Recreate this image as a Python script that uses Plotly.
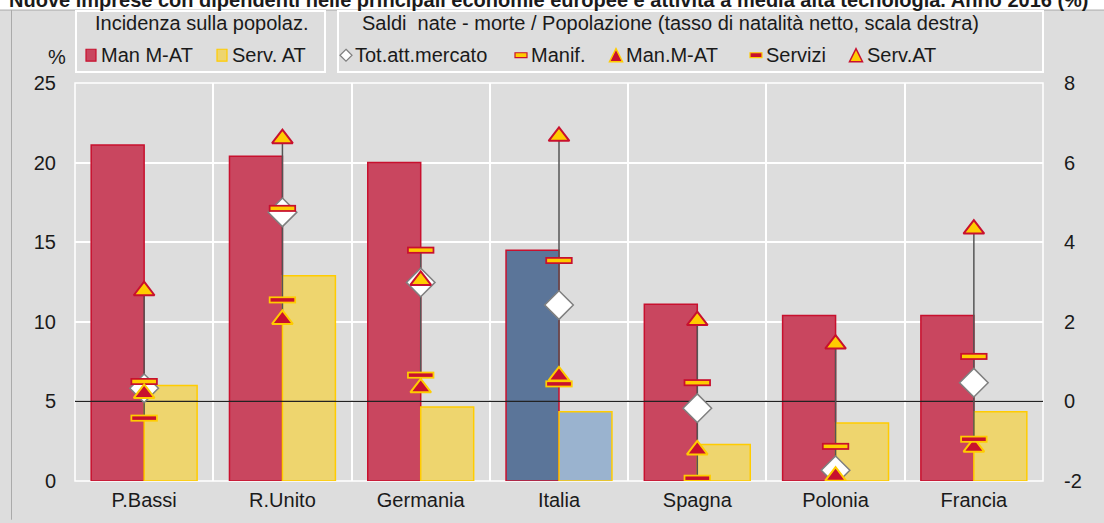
import plotly.graph_objects as go

# ---- data -------------------------------------------------------------
categories = ["P.Bassi", "R.Unito", "Germania", "Italia", "Spagna", "Polonia", "Francia"]

# incidence on population (%) - left scale
man_mat_share = [21.1, 20.4, 20.0, 14.5, 11.1, 10.4, 10.4]
serv_at_share = [6.0, 12.9, 4.65, 4.35, 2.3, 3.65, 4.35]

# net birth rate (births - deaths / population) - right scale
tot_net = [0.33, 4.75, 2.99, 2.42, -0.17, -1.73, 0.47]
manif_net = [0.50, 4.85, 3.80, 3.54, 0.47, -1.13, 1.13]
man_mat_net = [0.20, 2.06, 0.34, 0.64, -1.22, -1.88, -1.15]
servizi_net = [-0.42, 2.55, 0.66, 0.44, -1.93, -2.10, -0.95]
serv_at_net = [2.78, 6.60, 3.04, 6.66, 2.03, 1.44, 4.33]

left_ticks = [0, 5, 10, 15, 20, 25]
right_ticks = [-2, 0, 2, 4, 6, 8]

# ---- styling ----------------------------------------------------------
FONT = "Liberation Sans, Arial, sans-serif"
BG = "#DDDDDD"
RED = "#C8102E"
YEL = "#FFCC00"
RED_BAR = "#C9465F"
YEL_BAR = "#EED56E"
BLUE_BAR = "#5B7599"
LBLUE_BAR = "#9AB3CF"
HIGHLIGHT = "Italia"

W, H = 1104, 523
PL, PR, PT, PB = 75, 1043, 83, 484


def px(x):
    return (x - PL) / (PR - PL)


def py(y):
    return (PB - y) / (PB - PT)


xs = list(range(len(categories)))
red_fill = [BLUE_BAR if c == HIGHLIGHT else RED_BAR for c in categories]
yel_fill = [LBLUE_BAR if c == HIGHLIGHT else YEL_BAR for c in categories]

fig = go.Figure()

fig.add_trace(go.Bar(
    x=xs, y=man_mat_share, name="Man M-AT",
    marker=dict(color=red_fill, line=dict(color=RED, width=1.5)),
))
fig.add_trace(go.Bar(
    x=xs, y=serv_at_share, name="Serv. AT",
    marker=dict(color=yel_fill, line=dict(color=YEL, width=1.5)),
))

# zero line of the right scale
fig.add_trace(go.Scatter(
    x=[-0.5, len(categories) - 0.5], y=[0, 0], yaxis="y2", mode="lines",
    line=dict(color="#222222", width=1.2), hoverinfo="skip",
))

# high-low lines joining the net-rate markers of each country
series_net = [tot_net, manif_net, man_mat_net, servizi_net, serv_at_net]
hl_x, hl_y = [], []
for i in xs:
    vals = [s[i] for s in series_net]
    hl_x += [i, i, None]
    hl_y += [min(vals), max(vals), None]
fig.add_trace(go.Scatter(
    x=hl_x, y=hl_y, yaxis="y2", mode="lines",
    line=dict(color="#555555", width=1.5), hoverinfo="skip",
))


def dash(y, outer, inner, name):
    # a short bar drawn as a thick outlined stroke with a thinner core on top
    fig.add_trace(go.Scatter(
        x=xs, y=y, yaxis="y2", mode="markers", name=name,
        marker=dict(symbol="line-ew", size=19.5, line=dict(color=outer, width=7)),
    ))
    fig.add_trace(go.Scatter(
        x=xs, y=y, yaxis="y2", mode="markers", name=name, hoverinfo="skip",
        marker=dict(symbol="line-ew", size=17, line=dict(color=inner, width=3.5)),
    ))


fig.add_trace(go.Scatter(
    x=xs, y=tot_net, yaxis="y2", mode="markers", name="Tot.att.mercato",
    marker=dict(symbol="diamond", size=22, color="white", line=dict(color="#7F7F7F", width=1.5)),
))
dash(manif_net, RED, YEL, "Manif.")
fig.add_trace(go.Scatter(
    x=xs, y=man_mat_net, yaxis="y2", mode="markers", name="Man.M-AT",
    marker=dict(symbol="triangle-up", size=18, color=RED, line=dict(color=YEL, width=2)),
))
dash(servizi_net, YEL, RED, "Servizi")
fig.add_trace(go.Scatter(
    x=xs, y=serv_at_net, yaxis="y2", mode="markers", name="Serv.AT",
    marker=dict(symbol="triangle-up", size=18, color=YEL, line=dict(color=RED, width=2)),
))

# ---- legend, heading and frame ----------------------------------------
annotations = []
shapes = []


def label(text, x, y, size=20, anchor="left", yanchor="middle", bold=False):
    annotations.append(dict(
        text=f"<b>{text}</b>" if bold else text, x=px(x), y=py(y), xref="paper", yref="paper",
        xanchor=anchor, yanchor=yanchor, showarrow=False,
        font=dict(family=FONT, size=size, color="#1A1A1A"),
    ))


def rect(x0, y0, x1, y1, fill=None, color=None, width=0, layer="above"):
    shapes.append(dict(
        type="rect", xref="paper", yref="paper", x0=px(x0), x1=px(x1), y0=py(y1), y1=py(y0),
        fillcolor=fill if fill else "rgba(0,0,0,0)",
        line=dict(color=color if color else "rgba(0,0,0,0)", width=width), layer=layer,
    ))


def poly(points, fill, color, width):
    path = "M " + " L ".join(f"{px(x):.5f},{py(y):.5f}" for x, y in points) + " Z"
    shapes.append(dict(
        type="path", xref="paper", yref="paper", path=path,
        fillcolor=fill, line=dict(color=color, width=width),
    ))


def line(x0, y0, x1, y1, color, width):
    shapes.append(dict(
        type="line", xref="paper", yref="paper", x0=px(x0), x1=px(x1), y0=py(y0), y1=py(y1),
        line=dict(color=color, width=width),
    ))


LEG_Y = 55

# heading strip
rect(0, -5, W, 9.5, fill="white", layer="below")
line(0, 9.5, W, 9.5, "#AAAAAA", 1)
line(11.5, 9.5, 11.5, H, "#AAAAAA", 1)
label("Nuove imprese con dipendenti nelle principali economie europee e attività a media alta tecnologia. Anno 2016 (%)",
      7, 12, size=20, yanchor="bottom", bold=True)

# legend boxes
rect(76, 10.5, 325, 72, color="white", width=2)
rect(338, 10.5, 1043, 72, color="white", width=2)

label("Incidenza sulla popolaz.", 201, 23, anchor="center")
rect(86, 49, 96, 61, fill=RED_BAR, color=RED, width=1.2)
label("Man M-AT", 99, LEG_Y)
rect(217, 49, 227, 61, fill=YEL_BAR, color=YEL, width=1.2)
label("Serv. AT", 230, LEG_Y)

label("Saldi  nate - morte / Popolazione (tasso di natalità netto, scala destra)", 360, 23)
poly([(346, 49), (352, LEG_Y), (346, 61), (340, LEG_Y)], "white", "#7F7F7F", 1.2)
label("Tot.att.mercato", 353, LEG_Y)
rect(515, 52.5, 527, 57.5, fill=YEL, color=RED, width=1.2)
label("Manif.", 529, LEG_Y)
poly([(609.5, 61.5), (622.5, 61.5), (616, 48.5)], RED, YEL, 1.5)
label("Man.M-AT", 624, LEG_Y)
rect(750, 52.5, 762, 57.5, fill=RED, color=YEL, width=1.2)
label("Servizi", 764, LEG_Y)
poly([(849.5, 61.5), (862.5, 61.5), (856, 48.5)], YEL, RED, 1.5)
label("Serv.AT", 865, LEG_Y)

label("%", 57, 57, anchor="center")

# plot frame
shapes.append(dict(type="rect", xref="paper", yref="paper", x0=0, x1=1, y0=0, y1=1,
                   line=dict(color="white", width=1.5), layer="below"))

fig.update_layout(
    width=W, height=H,
    margin=dict(l=PL, r=W - PR, t=PT, b=H - PB, pad=0),
    paper_bgcolor=BG, plot_bgcolor=BG,
    barmode="group", bargap=0.234, bargroupgap=0,
    font=dict(family=FONT, size=20, color="#1A1A1A"),
    xaxis=dict(
        range=[-0.5, len(categories) - 0.5], tickvals=xs, ticktext=categories,
        showgrid=False, zeroline=False, showline=False, ticks="", ticklabelstandoff=5,
        minor=dict(tickvals=[i + 0.5 for i in xs[:-1]], showgrid=True, gridcolor="white",
                   gridwidth=1.5, ticks=""),
        tickfont=dict(size=20),
    ),
    yaxis=dict(
        range=[0, 25], tickvals=left_ticks, ticktext=[str(v) for v in left_ticks],
        showgrid=True, gridcolor="white", gridwidth=1.5,
        zeroline=False, showline=False, ticks="", ticklabelstandoff=18, tickfont=dict(size=20),
    ),
    yaxis2=dict(
        range=[-2, 8], tickvals=right_ticks, ticktext=[str(v) for v in right_ticks],
        overlaying="y", side="right", showgrid=False,
        zeroline=False, showline=False, ticks="", ticklabelstandoff=20, tickfont=dict(size=20),
    ),
    annotations=annotations,
    shapes=shapes,
    showlegend=False,
)

fig.write_html("out.html")
